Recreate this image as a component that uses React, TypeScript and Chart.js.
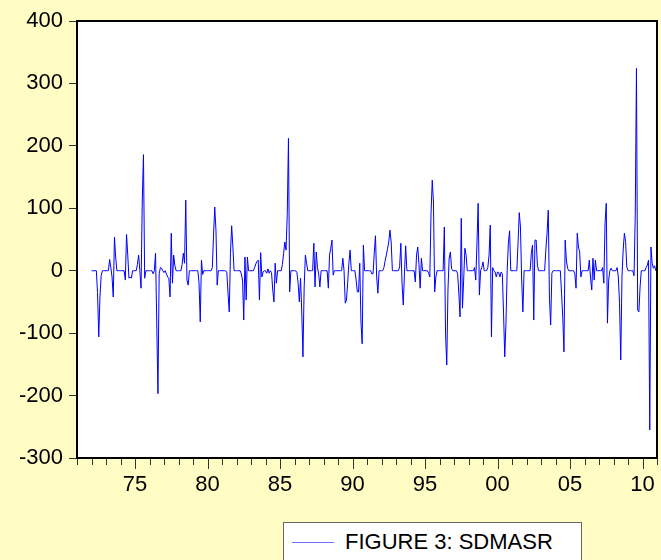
import { useEffect, useRef } from "react";
import { Chart, registerables } from "chart.js";

Chart.register(...registerables);

// ---- data ----
const SERIES_NAME = "FIGURE 3: SDMASR";
const FIRST_YEAR = 1972; // first observation: January 1972, monthly
const AXIS_START = 1971;
const AXIS_END = 2011;
const LABEL_YEARS = [1975, 1980, 1985, 1990, 1995, 2000, 2005, 2010];
const Y_MIN = -300;
const Y_MAX = 400;
const Y_STEP = 100;

// monthly values, one row per year (Jan..Dec)
const sdmasr: number[] = [
  /*1972*/ 0, 0, 0, 0, 0, -35, -106, -42, -8, 0, 0, 0,
  /*1973*/ 0, 0, 0, 18, 5, -10, -42, 54, 22, 0, 0, 0,
  /*1974*/ 0, 0, 0, 0, -15, 58, 25, -12, -10, -12, 0, 0,
  /*1975*/ 0, 0, 10, 25, 0, -28, 110, 186, -12, 0, 0, 0,
  /*1976*/ 0, 0, 0, -5, 0, 28, -84, -197, -5, 5, 4, 0,
  /*1977*/ -3, 0, -5, -10, -12, -42, 60, -20, 25, 8, 0, 0,
  /*1978*/ 0, 0, 0, 10, 28, 12, 113, -15, -23, 0, 0, 0,
  /*1979*/ 0, 0, 0, 0, 0, -20, -82, 17, -6, 0, 0, 0,
  /*1980*/ 0, 0, 0, 0, 5, 57, 102, 65, -23, 0, 0, 0,
  /*1981*/ 0, 0, 0, 0, -3, -36, -66, 28, 72, 38, 0, 0,
  /*1982*/ 0, 0, 0, 0, -5, -15, -79, 22, -47, 22, 0, 0,
  /*1983*/ 0, 0, 0, 5, 11, 15, 17, -47, 29, -10, -2, 0,
  /*1984*/ 0, -4, 3, -4, 0, -3, -31, -50, 12, -20, 0, 0,
  /*1985*/ 0, 0, 10, 28, 46, 33, 90, 212, -34, 0, 0, 0,
  /*1986*/ 0, 0, -3, -20, -50, -12, -66, -138, -26, 25, 12, 0,
  /*1987*/ 0, 0, 0, 0, 44, -26, 30, 5, -5, -26, 0, 0,
  /*1988*/ 0, 0, 0, 0, -28, 25, 36, 49, -7, 0, 0, 0,
  /*1989*/ 0, 0, 0, 0, 20, 0, -52, -47, -20, 12, 33, 0,
  /*1990*/ 0, 0, 0, -15, -34, -34, 12, -82, -117, 41, 0, 0,
  /*1991*/ 0, 0, 0, 0, -5, -5, 28, 56, -10, -36, 0, 0,
  /*1992*/ 0, 0, 5, 16, 25, 35, 46, 65, 46, 0, 0, 0,
  /*1993*/ 0, 0, 0, 6, 44, -20, -55, -4, 40, 0, 0, 0,
  /*1994*/ 0, 0, 0, 0, -18, 25, 38, 10, -28, 20, 0, 0,
  /*1995*/ 0, 0, 0, -4, -10, 92, 145, 110, -34, -10, 0, 0,
  /*1996*/ 0, 0, 0, 0, 70, -100, -151, -31, 20, 30, 3, 0,
  /*1997*/ 0, 0, 0, -5, -36, -74, 84, -60, -15, 36, 25, 0,
  /*1998*/ 0, 0, 0, 0, 0, 5, -15, 44, 108, -39, 0, 5,
  /*1999*/ 14, 0, 0, 0, 5, 25, 73, -106, 5, 0, -2, -10,
  /*2000*/ -2, -3, -10, -2, -5, -68, -138, -84, 0, 44, 64, 0,
  /*2001*/ 0, 0, 0, 0, 0, 44, 93, 70, -15, -66, 0, 0,
  /*2002*/ 0, 0, 0, 0, 28, 41, -79, 49, 49, 9, 0, 0,
  /*2003*/ 0, 0, 0, 0, 33, 60, 97, -44, -87, -4, 0, 0,
  /*2004*/ 0, 0, 0, 0, 0, -36, -74, -130, 49, 17, 4, 0,
  /*2005*/ 0, 0, 0, 0, -5, -28, 60, 38, 30, -10, 0, 0,
  /*2006*/ 0, 0, 0, 0, 17, -12, -31, 20, -15, 17, 0, 0,
  /*2007*/ 0, 0, 0, 5, -20, 76, 108, -84, -15, 0, 4, 0,
  /*2008*/ 0, 0, 0, 5, -10, -52, -143, -10, 33, 60, 47, 6,
  /*2009*/ 0, 0, 0, 0, 0, -8, 90, 324, -63, -66, -26, 0,
  /*2010*/ 0, 0, 0, 5, 9, 17, -255, 38, 12, 4, 8, 0,
];

// ---- styles ----
const BG = "rgb(255,252,196)";
const LINE = "#0000ff";
const FONT = '"Liberation Sans", Arial, sans-serif';

const framePlugin = {
  id: "evFrame",
  beforeDraw(chart: any) {
    const { ctx, chartArea: a } = chart;
    ctx.save();
    ctx.fillStyle = "#ffffff";
    ctx.fillRect(a.left, a.top, a.right - a.left, a.bottom - a.top);
    ctx.restore();
  },
  afterDraw(chart: any) {
    const { ctx, chartArea: a } = chart;
    const xs = chart.scales.x;
    ctx.save();
    ctx.strokeStyle = "#333";
    ctx.lineWidth = 1;
    for (const t of xs.ticks) {
      const px = Math.round(xs.getPixelForValue(t.value)) + 0.5;
      const len = LABEL_YEARS.includes(t.value) ? 11 : 7;
      ctx.beginPath();
      ctx.moveTo(px, a.bottom);
      ctx.lineTo(px, a.bottom + len);
      ctx.stroke();
    }
    ctx.strokeStyle = "#000";
    ctx.lineWidth = 2;
    ctx.strokeRect(a.left, a.top, a.right - a.left, a.bottom - a.top);
    ctx.restore();
  },
};

export default function App() {
  const ref = useRef<HTMLCanvasElement | null>(null);

  useEffect(() => {
    if (!ref.current) return;
    const points = sdmasr.map((v, i) => ({ x: FIRST_YEAR + i / 12, y: v }));
    const chart = new Chart(ref.current, {
      type: "line",
      data: {
        datasets: [
          {
            label: SERIES_NAME,
            data: points,
            borderColor: LINE,
            borderWidth: 1,
            pointRadius: 0,
            tension: 0,
            fill: false,
          },
        ],
      },
      options: {
        animation: false,
        responsive: false,
        devicePixelRatio: 1,
        events: [],
        layout: { padding: { top: 21, left: 0, right: 2, bottom: 0 } },
        plugins: {
          legend: { display: false },
          tooltip: { enabled: false },
          title: { display: false },
        },
        scales: {
          x: {
            type: "linear",
            min: AXIS_START,
            max: AXIS_END,
            afterFit: (s: any) => {
              s.height = 102;
            },
            border: { display: false },
            grid: {
              display: true,
              drawOnChartArea: false,
              drawTicks: true,
              tickLength: 10,
              tickColor: "rgba(0,0,0,0)",
            },
            ticks: {
              stepSize: 1,
              autoSkip: false,
              maxTicksLimit: 1000,
              maxRotation: 0,
              minRotation: 0,
              padding: 4,
              color: "#000",
              font: { family: FONT, size: 22 },
              callback: (v: any) =>
                LABEL_YEARS.includes(Number(v))
                  ? String(Number(v) % 100).padStart(2, "0")
                  : "",
            },
          },
          y: {
            min: Y_MIN,
            max: Y_MAX,
            afterFit: (s: any) => {
              s.width = 77;
            },
            border: { display: false },
            grid: {
              display: true,
              drawOnChartArea: false,
              drawTicks: true,
              tickLength: 8,
              tickColor: "#333",
            },
            ticks: {
              stepSize: Y_STEP,
              padding: 6,
              color: "#000",
              font: { family: FONT, size: 22 },
            },
          },
        },
      },
      plugins: [framePlugin],
    });
    return () => chart.destroy();
  }, []);

  return (
    <div
      style={{
        position: "absolute",
        left: 0,
        top: 0,
        width: 661,
        height: 560,
        background: BG,
        overflow: "hidden",
      }}
    >
      <canvas ref={ref} width={661} height={560} style={{ display: "block" }} />
      <div
        style={{
          position: "absolute",
          left: 283,
          top: 522,
          width: 299,
          height: 50,
          boxSizing: "border-box",
          border: "1px solid #666",
          background: "#fff",
        }}
      >
        <div
          style={{
            position: "absolute",
            left: 8,
            top: 19,
            width: 42,
            height: 1,
            background: "#6f6fff",
          }}
        />
        <div
          style={{
            position: "absolute",
            left: 61,
            top: 8,
            fontFamily: FONT,
            fontSize: 22,
            lineHeight: "22px",
            color: "#000",
            whiteSpace: "nowrap",
          }}
        >
          {SERIES_NAME}
        </div>
      </div>
    </div>
  );
}
